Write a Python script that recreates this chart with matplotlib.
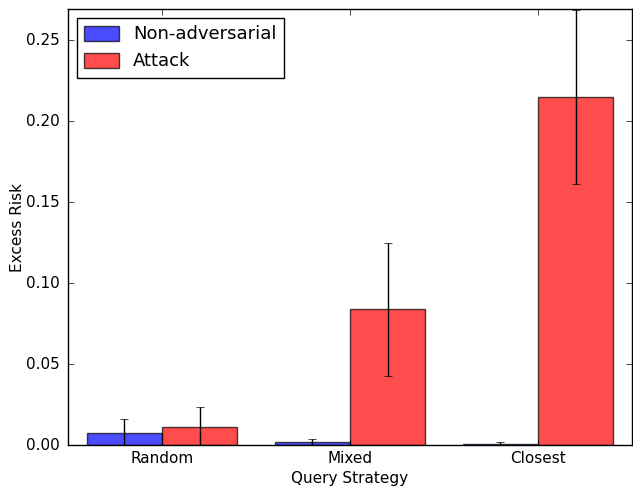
import numpy as np
import matplotlib
matplotlib.use('Agg')
import matplotlib.pyplot as plt

plt.style.use('classic')
plt.rcParams['font.size'] = 11

strategies = ['Random', 'Mixed', 'Closest']
nonadv_mean = [0.0074, 0.0018, 0.0008]
nonadv_err = [0.0085, 0.0022, 0.0010]
attack_mean = [0.0112, 0.0837, 0.2148]
attack_err = [0.0122, 0.0408, 0.0537]

x = np.arange(len(strategies))
width = 0.4

fig = plt.figure(figsize=(6.33, 4.87), dpi=100, facecolor='white')
ax = fig.add_axes([0.1074, 0.0862, 0.8910, 0.8953])

ax.bar(x - width, nonadv_mean, width, yerr=nonadv_err, color='b', alpha=0.7,
       align='edge', ecolor='k', capsize=3, label='Non-adversarial')
ax.bar(x, attack_mean, width, yerr=attack_err, color='r', alpha=0.7,
       align='edge', ecolor='k', capsize=3, label='Attack')

ax.set_xlim(-0.5, 2.5)
ax.set_ylim(0, 0.2692)
ax.set_xticks(x)
ax.set_xticklabels(strategies)
ax.set_yticks(np.arange(0, 0.26, 0.05))
ax.tick_params(axis='x', labelsize=11, pad=4)
ax.tick_params(axis='y', labelsize=11, pad=6)
ax.set_xlabel('Query Strategy', fontsize=11, labelpad=4)
ax.set_ylabel('Excess Risk', fontsize=11, labelpad=1)
ax.legend(loc='upper left', fontsize=13, handlelength=1.9, handleheight=0.9)

fig.savefig('out.png', dpi=100, facecolor='white')
